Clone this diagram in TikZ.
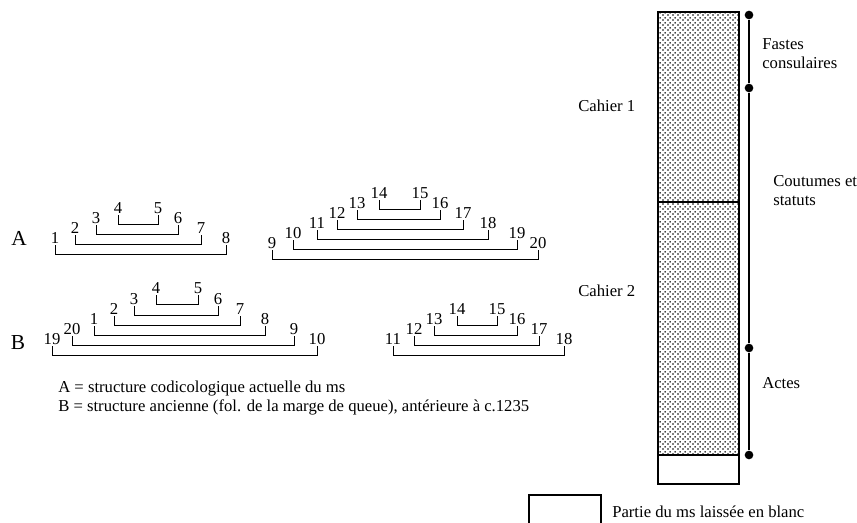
\documentclass[tikz,border=0pt]{standalone}
\usepackage{fontspec}
\setmainfont{Liberation Serif}
\usetikzlibrary{patterns}

% fine stipple for the written parts
\pgfdeclarepatternformonly{stipple}{\pgfqpoint{0pt}{0pt}}{\pgfqpoint{3.4pt}{3.4pt}}{\pgfqpoint{3.4pt}{3.4pt}}{
  \pgfpathcircle{\pgfqpoint{0.85pt}{0.85pt}}{0.68pt}
  \pgfpathcircle{\pgfqpoint{2.55pt}{2.55pt}}{0.68pt}
  \pgfusepath{fill}
}

\begin{document}
\begin{tikzpicture}[
  x=0.75pt, y=-0.75pt,
  font=\fontsize{12.5}{14.3}\selectfont,
  num/.style={inner sep=1pt},
  fold/.style={line width=0.75pt},
  quire/.style={
     draw,
     line width=2pt,
     pattern=stipple
  },
  txt/.style={inner sep=0pt, anchor=west, align=left},
  dot/.style={circle, fill, inner sep=0pt, minimum size=6.5pt},
  big/.style={font=\fontsize{16}{18}\selectfont}
]
\useasboundingbox (0,0) rectangle (857,523);

%% structure A
\node[big] (rowA) at (19,238) {A};

\node[num] (a1) at (55,238) {1};   \node[num] (a8) at (226,238) {8};
\node[num] (a2) at (75,228) {2};   \node[num] (a7) at (201,228) {7};
\node[num] (a3) at (96,218) {3};   \node[num] (a6) at (178,218) {6};
\node[num] (a4) at (118,208) {4};  \node[num] (a5) at (158,208) {5};

\draw[fold] (a1.south) -- ++(0,9) -| (a8.south);
\draw[fold] (a2.south) -- ++(0,9) -| (a7.south);
\draw[fold] (a3.south) -- ++(0,9) -| (a6.south);
\draw[fold] (a4.south) -- ++(0,9) -| (a5.south);

\node[num] (a9) at (272,243) {9};    \node[num] (a20) at (538,243) {20};
\node[num] (a10) at (293,233) {10};  \node[num] (a19) at (517,233) {19};
\node[num] (a11) at (317,223) {11};  \node[num] (a18) at (488,223) {18};
\node[num] (a12) at (337,213) {12};  \node[num] (a17) at (463,213) {17};
\node[num] (a13) at (357,203) {13};  \node[num] (a16) at (440,203) {16};
\node[num] (a14) at (379,193) {14};  \node[num] (a15) at (420,193) {15};

\draw[fold] (a9.south)  -- ++(0,9) -| (a20.south);
\draw[fold] (a10.south) -- ++(0,9) -| (a19.south);
\draw[fold] (a11.south) -- ++(0,9) -| (a18.south);
\draw[fold] (a12.south) -- ++(0,9) -| (a17.south);
\draw[fold] (a13.south) -- ++(0,9) -| (a16.south);
\draw[fold] (a14.south) -- ++(0,9) -| (a15.south);

%% structure B
\node[big] (rowB) at (18,343) {B};

\node[num] (b19) at (52,339) {19};  \node[num] (b10) at (317,339) {10};
\node[num] (b20) at (72,329) {20};  \node[num] (b9) at (294,329) {9};
\node[num] (b1) at (94,319) {1};    \node[num] (b8) at (265,319) {8};
\node[num] (b2) at (114,309) {2};   \node[num] (b7) at (240,309) {7};
\node[num] (b3) at (134,299) {3};   \node[num] (b6) at (218,299) {6};
\node[num] (b4) at (156,288) {4};   \node[num] (b5) at (198,288) {5};

\draw[fold] (b19.south) -- ++(0,9) -| (b10.south);
\draw[fold] (b20.south) -- ++(0,9) -| (b9.south);
\draw[fold] (b1.south)  -- ++(0,9) -| (b8.south);
\draw[fold] (b2.south)  -- ++(0,9) -| (b7.south);
\draw[fold] (b3.south)  -- ++(0,9) -| (b6.south);
\draw[fold] (b4.south)  -- ++(0,9) -| (b5.south);

\node[num] (b11) at (393,339) {11};  \node[num] (b18) at (564,339) {18};
\node[num] (b12) at (414,329) {12};  \node[num] (b17) at (539,329) {17};
\node[num] (b13) at (434,319) {13};  \node[num] (b16) at (517,319) {16};
\node[num] (b14) at (457,309) {14};  \node[num] (b15) at (497,309) {15};

\draw[fold] (b11.south) -- ++(0,9) -| (b18.south);
\draw[fold] (b12.south) -- ++(0,9) -| (b17.south);
\draw[fold] (b13.south) -- ++(0,9) -| (b16.south);
\draw[fold] (b14.south) -- ++(0,9) -| (b15.south);

\node[txt] (key) at (58,398)
  {A = structure codicologique actuelle du ms\\
   B = structure ancienne (fol. de la marge de queue), antérieure à c.1235};

%% the manuscript
\path[quire] (658,12) rectangle (739,202);
\path[quire] (658,202) rectangle (739,455);
\draw[line width=2pt] (658,455) rectangle (739,484);

\node[txt] (cah1) at (578,106) {Cahier 1};
\node[txt] (cah2) at (578,291) {Cahier 2};

\node[dot] (d1) at (749,15) {};
\node[dot] (d2) at (749,88) {};
\node[dot] (d3) at (749,348) {};
\node[dot] (d4) at (749,455) {};
\draw[line width=1.1pt] (d1) -- (d2) -- (d3) -- (d4);

\node[txt] (fastes) at (762,54) {Fastes\\consulaires};
\node[txt] (cout)   at (773,191) {Coutumes et\\statuts};
\node[txt] (actes)  at (762,383) {Actes};

%% legend
\draw[line width=1.6pt] (529,523) -- (529,495) -- (601,495) -- (601,523);
\node[txt] (blanc) at (612,512) {Partie du ms laissée en blanc};

\end{tikzpicture}
\end{document}
